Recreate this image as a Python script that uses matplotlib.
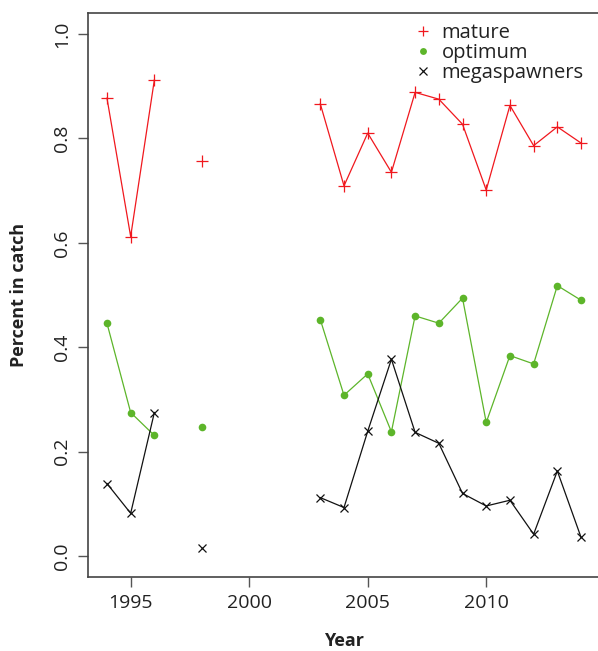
import numpy as np
import matplotlib
matplotlib.use("Agg")
import matplotlib.pyplot as plt

years = list(range(1994, 2015))
nan = np.nan
mature = [0.877, 0.612, 0.912, nan, 0.756, nan, nan, nan, nan,
          0.866, 0.709, 0.810, 0.735, 0.888, 0.875, 0.827, 0.701, 0.863, 0.786, 0.822, 0.791]
optimum = [0.446, 0.275, 0.231, nan, 0.248, nan, nan, nan, nan,
           0.453, 0.308, 0.349, 0.238, 0.460, 0.446, 0.494, 0.256, 0.384, 0.368, 0.518, 0.490]
mega = [0.139, 0.082, 0.275, nan, 0.016, nan, nan, nan, nan,
        0.112, 0.093, 0.239, 0.377, 0.237, 0.216, 0.120, 0.096, 0.107, 0.042, 0.163, 0.036]

plt.rcParams['font.family'] = ['Open Sans', 'DejaVu Sans']
fig = plt.figure(figsize=(5.98, 6.51), dpi=100)
ax = fig.add_axes([88/598, 74/651, 512/598, 564/651])

red = '#f0181e'
green = '#5db52a'
black = '#111111'
ax.plot(years, mature, color=red, lw=0.9, marker='+', ms=8.5, mew=0.9, label='mature')
ax.plot(years, optimum, color=green, lw=0.9, marker='o', ms=5.5, mew=0, label='optimum')
ax.plot(years, mega, color=black, lw=0.9, marker='x', ms=6, mew=0.9, label='megaspawners')

ax.set_xlim(1993.2, 2014.8)
ax.set_ylim(-0.04, 1.04)
ax.set_xticks([1995, 2000, 2005, 2010])
ax.set_yticks([0.0, 0.2, 0.4, 0.6, 0.8, 1.0])
ax.set_yticklabels(['0.0', '0.2', '0.4', '0.6', '0.8', '1.0'], rotation=90, va='center')
ax.tick_params(direction='out', length=7, width=1, color='#555555', labelsize=14, labelcolor='#222222', pad=5)
for s in ax.spines.values():
    s.set_color('#444444')
    s.set_linewidth(1.2)

ax.set_xlabel('Year', fontsize=13, fontweight='bold', color='#222222', labelpad=15)
ax.set_ylabel('Percent in catch', fontsize=13, fontweight='bold', color='#222222', labelpad=18)

leg = ax.legend(loc='upper left', bbox_to_anchor=(0.62, 0.997), frameon=False, fontsize=14.5,
                handlelength=0.9, handletextpad=0.5, labelspacing=0.0, borderaxespad=0,
                markerscale=0.9)
for h in leg.legend_handles:
    h.set_linestyle('none')
for t in leg.get_texts():
    t.set_color('#222222')

fig.savefig('out.png', dpi=100)
